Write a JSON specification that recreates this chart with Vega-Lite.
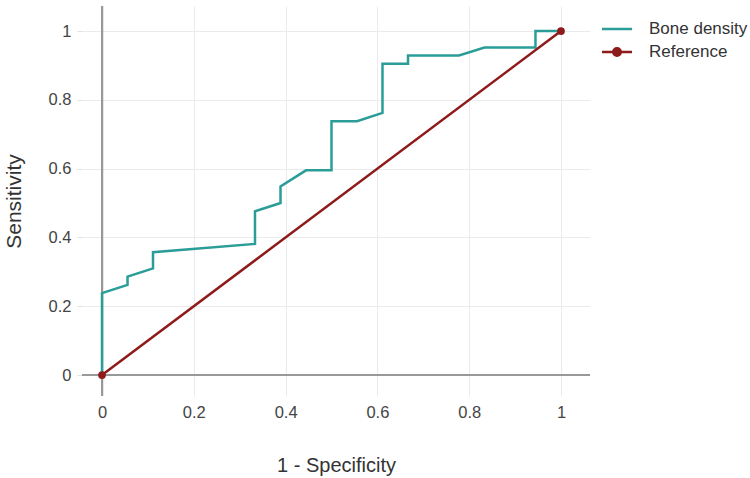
{
  "$schema": "https://vega.github.io/schema/vega-lite/v6.json",
  "width": 508,
  "height": 390,
  "autosize": "none",
  "padding": {"left": 82, "top": 6, "right": 160, "bottom": 82},
  "config": {
    "view": {"stroke": null},
    "font": "Liberation Sans"
  },
  "datasets": {
    "roc": [
      {"series": "Bone density", "step": 1, "fpr": 0, "tpr": 0},
      {"series": "Bone density", "step": 2, "fpr": 0, "tpr": 0.238},
      {"series": "Bone density", "step": 3, "fpr": 0.0556, "tpr": 0.262},
      {"series": "Bone density", "step": 4, "fpr": 0.0556, "tpr": 0.286},
      {"series": "Bone density", "step": 5, "fpr": 0.1111, "tpr": 0.31},
      {"series": "Bone density", "step": 6, "fpr": 0.1111, "tpr": 0.357},
      {"series": "Bone density", "step": 7, "fpr": 0.3333, "tpr": 0.381},
      {"series": "Bone density", "step": 8, "fpr": 0.3333, "tpr": 0.476},
      {"series": "Bone density", "step": 9, "fpr": 0.3889, "tpr": 0.5},
      {"series": "Bone density", "step": 10, "fpr": 0.3889, "tpr": 0.548},
      {"series": "Bone density", "step": 11, "fpr": 0.4444, "tpr": 0.595},
      {"series": "Bone density", "step": 12, "fpr": 0.5, "tpr": 0.595},
      {"series": "Bone density", "step": 13, "fpr": 0.5, "tpr": 0.738},
      {"series": "Bone density", "step": 14, "fpr": 0.5556, "tpr": 0.738},
      {"series": "Bone density", "step": 15, "fpr": 0.6111, "tpr": 0.762},
      {"series": "Bone density", "step": 16, "fpr": 0.6111, "tpr": 0.905},
      {"series": "Bone density", "step": 17, "fpr": 0.6667, "tpr": 0.905},
      {"series": "Bone density", "step": 18, "fpr": 0.6667, "tpr": 0.929},
      {"series": "Bone density", "step": 19, "fpr": 0.7778, "tpr": 0.929},
      {"series": "Bone density", "step": 20, "fpr": 0.8333, "tpr": 0.952},
      {"series": "Bone density", "step": 21, "fpr": 0.9444, "tpr": 0.952},
      {"series": "Bone density", "step": 22, "fpr": 0.9444, "tpr": 1},
      {"series": "Bone density", "step": 23, "fpr": 1, "tpr": 1},
      {"series": "Reference", "step": 1, "fpr": 0, "tpr": 0},
      {"series": "Reference", "step": 2, "fpr": 1, "tpr": 1}
    ]
  },
  "data": {"name": "roc"},
  "encoding": {
    "x": {
      "field": "fpr",
      "type": "quantitative",
      "scale": {"domain": [-0.0436, 1.0632], "nice": false, "zero": false},
      "axis": {
        "title": "1 - Specificity",
        "values": [0, 0.2, 0.4, 0.6, 0.8, 1],
        "format": "~g",
        "grid": true,
        "gridColor": "#ebebeb",
        "gridWidth": 1,
        "domain": false,
        "ticks": false,
        "labelFontSize": 16.5,
        "labelColor": "#444444",
        "labelPadding": 8,
        "titleFontSize": 20,
        "titleFontWeight": "normal",
        "titleColor": "#333333",
        "titlePadding": 35
      }
    },
    "y": {
      "field": "tpr",
      "type": "quantitative",
      "scale": {"domain": [-0.061, 1.0727], "nice": false, "zero": false},
      "axis": {
        "title": "Sensitivity",
        "values": [0, 0.2, 0.4, 0.6, 0.8, 1],
        "format": "~g",
        "grid": true,
        "gridColor": "#ebebeb",
        "gridWidth": 1,
        "domain": false,
        "ticks": true,
        "tickColor": "#e0e0e0",
        "tickSize": 5,
        "labelFontSize": 16.5,
        "labelColor": "#444444",
        "labelPadding": 6,
        "titleFontSize": 21,
        "titleFontWeight": "normal",
        "titleColor": "#333333",
        "titlePadding": 24
      }
    }
  },
  "layer": [
    {
      "mark": {"type": "rule", "color": "#999999", "strokeWidth": 2},
      "encoding": {"x": {"datum": 0, "type": "quantitative"}, "y": null}
    },
    {
      "mark": {"type": "rule", "color": "#999999", "strokeWidth": 2},
      "encoding": {"y": {"datum": 0, "type": "quantitative"}, "x": null}
    },
    {
      "mark": {"type": "line", "strokeWidth": 2.5},
      "encoding": {
        "order": {"field": "step", "type": "quantitative"},
        "color": {
          "field": "series",
          "type": "nominal",
          "scale": {"domain": ["Bone density", "Reference"], "range": ["#2a9d98", "#8e1b1b"]},
          "legend": {
            "title": null,
            "orient": "none",
            "legendX": 526,
            "legendY": 14,
            "symbolType": "M-2,0H2",
            "symbolSize": 225,
            "symbolStrokeWidth": 2.5,
            "labelFontSize": 17,
            "labelColor": "#333333",
            "labelOffset": 23,
            "rowPadding": 6,
            "encode": {
              "symbols": {
                "update": {
                  "shape": {"signal": "datum.value === 'Reference' ? 'M-2,0H2M-0.5,0A0.5,0.5,0,1,1,0.5,0A0.5,0.5,0,1,1,-0.5,0Z' : 'M-2,0H2'"},
                  "fill": {"signal": "datum.value === 'Reference' ? '#8e1b1b' : 'transparent'"}
                }
              }
            }
          }
        }
      }
    },
    {
      "transform": [{"filter": "datum.series === 'Reference'"}],
      "mark": {"type": "circle", "size": 60, "opacity": 1, "color": "#8e1b1b"}
    }
  ]
}
